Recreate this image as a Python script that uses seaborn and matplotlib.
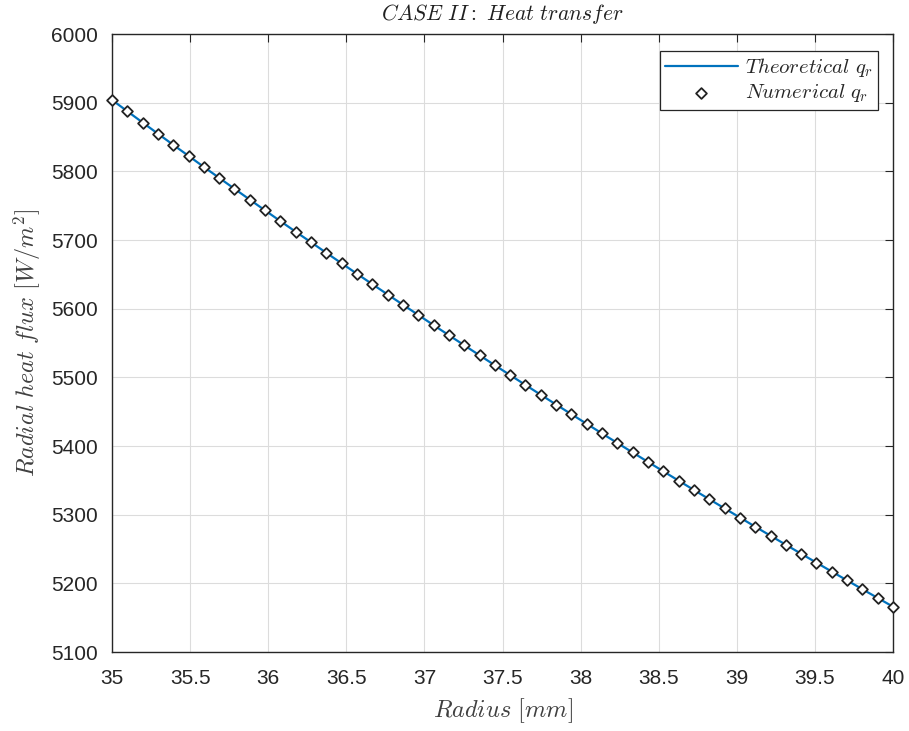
import numpy as np
import pandas as pd
import matplotlib
matplotlib.use("Agg")
import matplotlib.pyplot as plt
import seaborn as sns

# Data
radius_mm = [35.0, 35.098, 35.196, 35.294, 35.392, 35.490, 35.588, 35.686, 35.784, 35.882,
             35.980, 36.078, 36.176, 36.275, 36.373, 36.471, 36.569, 36.667, 36.765, 36.863,
             36.961, 37.059, 37.157, 37.255, 37.353, 37.451, 37.549, 37.647, 37.745, 37.843,
             37.941, 38.039, 38.137, 38.235, 38.333, 38.431, 38.529, 38.627, 38.725, 38.824,
             38.922, 39.020, 39.118, 39.216, 39.314, 39.412, 39.510, 39.608, 39.706, 39.804,
             39.902, 40.0]
q_theoretical = [5904.0, 5887.5, 5871.1, 5854.8, 5838.6, 5822.5, 5806.4, 5790.5, 5774.6, 5758.8,
                 5743.1, 5727.5, 5712.0, 5696.6, 5681.2, 5665.9, 5650.7, 5635.6, 5620.6, 5605.7,
                 5590.8, 5576.0, 5561.3, 5546.7, 5532.1, 5517.6, 5503.2, 5488.9, 5474.6, 5460.4,
                 5446.3, 5432.3, 5418.3, 5404.4, 5390.6, 5376.9, 5363.2, 5349.6, 5336.0, 5322.5,
                 5309.1, 5295.8, 5282.5, 5269.3, 5256.2, 5243.1, 5230.1, 5217.1, 5204.3, 5191.4,
                 5178.7, 5166.0]
q_numerical = list(q_theoretical)
x_ticks = [35, 35.5, 36, 36.5, 37, 37.5, 38, 38.5, 39, 39.5, 40]
x_tick_labels = ["35", "35.5", "36", "36.5", "37", "37.5", "38", "38.5", "39", "39.5", "40"]
y_ticks = [5100, 5200, 5300, 5400, 5500, 5600, 5700, 5800, 5900, 6000]

sns.set_theme(style="whitegrid")
plt.rcParams["font.family"] = ["Liberation Sans", "DejaVu Sans"]
plt.rcParams["mathtext.fontset"] = "cm"

df = pd.DataFrame({"r": radius_mm, "qt": q_theoretical, "qn": q_numerical})

fig = plt.figure(figsize=(9.09, 7.31), dpi=100)
ax = fig.add_axes([112/909, 1-652/731, (893-112)/909, (652-34)/731])
ax.set_facecolor("white")

sns.lineplot(data=df, x="r", y="qt", ax=ax, color="#0072BD", linewidth=1.6,
             label=r"$Theoretical\ q_r$", zorder=2)
sns.scatterplot(data=df, x="r", y="qn", ax=ax, marker="D", s=30,
                facecolor="white", edgecolor="#222222", linewidth=1.3,
                label=r"$Numerical\ q_r$", zorder=3, clip_on=False)

ax.set_xlim(35, 40)
ax.set_ylim(5100, 6000)
ax.set_xticks(x_ticks)
ax.set_xticklabels(x_tick_labels)
ax.set_yticks(y_ticks)
ax.tick_params(axis="both", which="both", direction="in", length=6, width=0.8,
               colors="#262626", labelsize=15, top=True, right=True)
ax.tick_params(axis="x", pad=12)
ax.tick_params(axis="y", pad=10)
ax.grid(True, color="#DCDCDC", linewidth=0.8)
for s in ax.spines.values():
    s.set_color("#262626")
    s.set_linewidth(1.0)
    s.set_visible(True)

ax.set_xlabel(r"$Radius\ [mm]$", fontsize=17.5, color="#404040", labelpad=6)
ax.set_ylabel(r"$Radial\ heat\ flux\ [W/m^2]$", fontsize=17.5, color="#404040", labelpad=6)
ax.set_title(r"$CASE\ II:\ Heat\ transfer$", fontsize=15.5, color="#202020", pad=10)

leg = ax.legend(loc="upper right", bbox_to_anchor=((878-112)/781, 1-(51-34)/618),
                fontsize=15, frameon=True, fancybox=False,
                edgecolor="#262626", framealpha=1, borderaxespad=0.0,
                handlelength=3.5, handletextpad=0.35, borderpad=0.25, labelspacing=0.15)
leg.get_frame().set_linewidth(0.9)

fig.savefig("out.png", dpi=100)
